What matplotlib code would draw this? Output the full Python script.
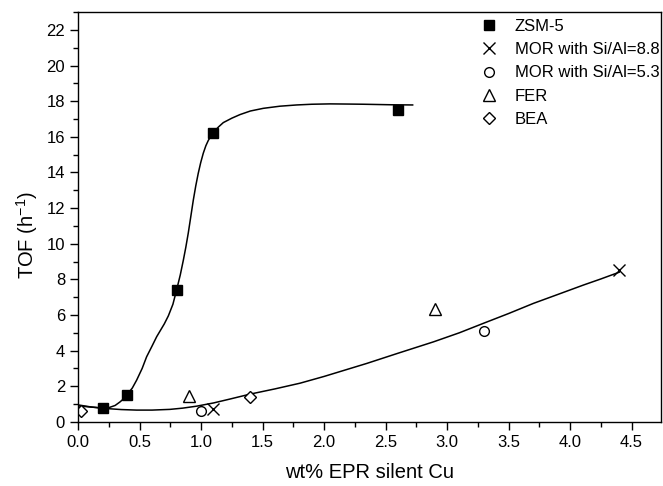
import matplotlib
matplotlib.use("Agg")
import matplotlib.pyplot as plt
from matplotlib.ticker import MultipleLocator

plt.rcParams["font.family"] = ["Liberation Sans", "DejaVu Sans"]
plt.rcParams["mathtext.fontset"] = "custom"
plt.rcParams["mathtext.rm"] = "Liberation Sans"

# measured points
zsm_x = [0.2, 0.4, 0.8, 1.1, 2.6]
zsm_y = [0.8, 1.5, 7.4, 16.2, 17.5]
mor88_x = [1.1, 4.4]
mor88_y = [0.7, 8.5]
mor53_x = [1.0, 3.3]
mor53_y = [0.6, 5.1]
fer_x = [0.9, 2.9]
fer_y = [1.45, 6.35]
bea_x = [0.02, 1.4]
bea_y = [0.6, 1.4]

# fitted curves
fit1_x = [0.0, 0.1, 0.2, 0.25, 0.3, 0.34, 0.37, 0.40, 0.44, 0.475, 0.52,
          0.556, 0.6, 0.638, 0.7, 0.733, 0.77, 0.80, 0.83, 0.855, 0.875,
          0.895, 0.915, 0.936, 0.956, 0.976, 0.996, 1.017, 1.038, 1.058,
          1.08, 1.10, 1.14, 1.18, 1.25, 1.316, 1.40, 1.505, 1.64, 1.777,
          1.9, 2.048, 2.2, 2.32, 2.55, 2.72]
fit1_y = [0.9, 0.83, 0.78, 0.8, 0.92, 1.12, 1.3, 1.55, 1.9, 2.34, 3.0,
          3.65, 4.25, 4.78, 5.5, 5.95, 6.6, 7.4, 8.25, 9.08, 9.8,
          10.6, 11.5, 12.45, 13.25, 13.95, 14.55, 15.08, 15.5, 15.8,
          16.05, 16.25, 16.55, 16.8, 17.05, 17.25, 17.45, 17.6, 17.72, 17.79,
          17.83, 17.85, 17.84, 17.83, 17.8, 17.79]
fit2_x = [0.0, 0.1, 0.2, 0.35, 0.475, 0.6, 0.746, 0.85, 0.963, 1.1, 1.234,
          1.40, 1.6, 1.804, 2.0, 2.347, 2.6, 2.889, 3.1, 3.295, 3.5, 3.702,
          3.9, 4.109, 4.25, 4.40]
fit2_y = [0.95, 0.84, 0.76, 0.69, 0.66, 0.66, 0.70, 0.77, 0.88, 1.06, 1.28,
          1.56, 1.85, 2.17, 2.55, 3.28, 3.85, 4.49, 5.0, 5.53, 6.08, 6.65,
          7.15, 7.68, 8.02, 8.40]

fig = plt.figure(figsize=(6.63, 4.86), dpi=100)
ax = fig.add_axes([0.118, 0.132, 0.879, 0.843])

ax.plot(fit1_x, fit1_y, color="black", lw=1.1)
ax.plot(fit2_x, fit2_y, color="black", lw=1.1)

ax.plot(zsm_x, zsm_y, "s", color="black", ms=7, ls="none", label="ZSM-5")
ax.plot(mor88_x, mor88_y, "x", color="black", ms=8, mew=1, ls="none",
        label="MOR with Si/Al=8.8")
ax.plot(mor53_x, mor53_y, "o", mfc="white", mec="black", ms=7, mew=1,
        ls="none", label="MOR with Si/Al=5.3")
ax.plot(fer_x, fer_y, "^", mfc="white", mec="black", ms=8, mew=1,
        ls="none", label="FER")
ax.plot(bea_x, bea_y, "D", mfc="white", mec="black", ms=6, mew=1,
        ls="none", label="BEA")

ax.set_xlim(0, 4.74)
ax.set_ylim(0, 23)
ax.xaxis.set_major_locator(MultipleLocator(0.5))
ax.xaxis.set_minor_locator(MultipleLocator(0.25))
ax.yaxis.set_major_locator(MultipleLocator(2))
ax.yaxis.set_minor_locator(MultipleLocator(1))
ax.xaxis.set_major_formatter(plt.FormatStrFormatter("%.1f"))
ax.tick_params(which="major", direction="out", length=6, width=1, labelsize=12)
ax.tick_params(which="minor", direction="out", length=3.5, width=1)
for s in ax.spines.values():
    s.set_linewidth(1)

ax.set_xlabel("wt% EPR silent Cu", fontsize=14.5, labelpad=9)
ax.set_ylabel("TOF (h$^{-1}$)", fontsize=14.5)
ax.yaxis.set_label_coords(-0.066, 0.455)

ax.legend(loc="upper left", bbox_to_anchor=(0.672, 1.0), frameon=False,
          fontsize=12, handletextpad=0.8, labelspacing=0.5,
          borderaxespad=0.0, handlelength=1.5)

fig.savefig("out.png", dpi=100)
